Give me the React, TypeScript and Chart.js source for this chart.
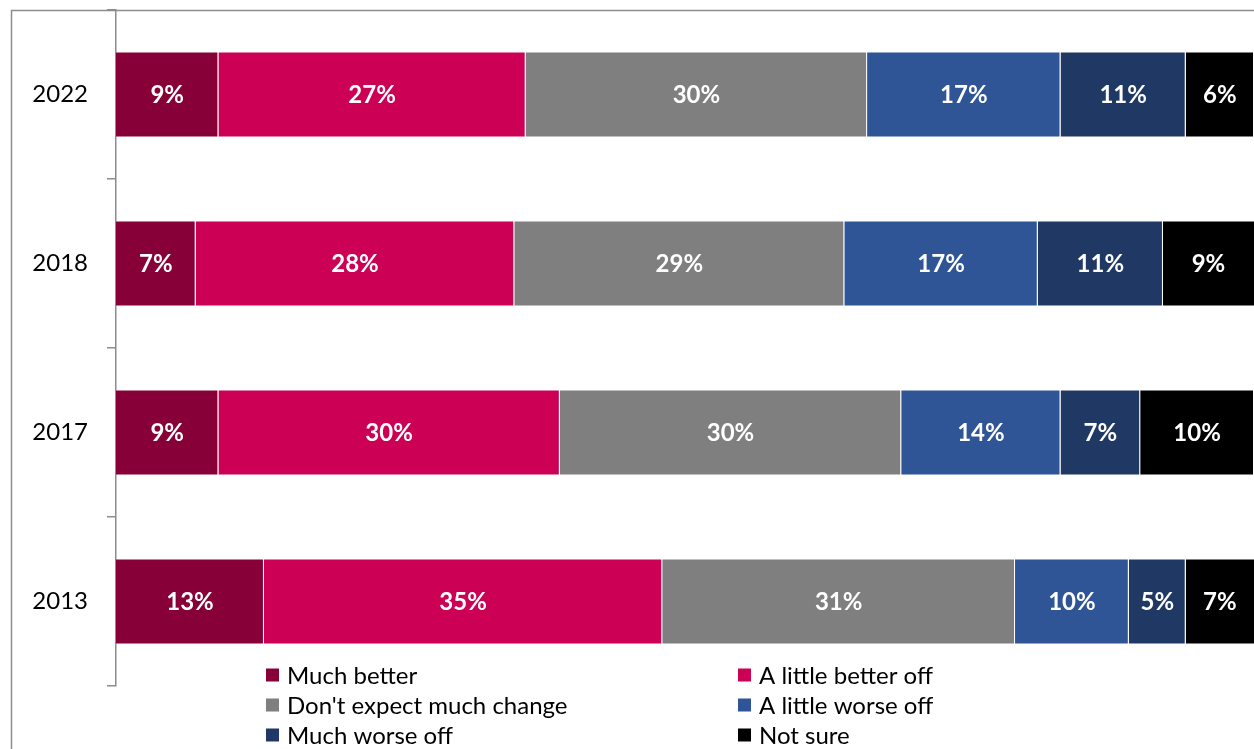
import React, { useEffect, useRef } from "react";
import { Chart, registerables } from "chart.js";

Chart.register(...registerables);

const categories = ["2022", "2018", "2017", "2013"];
const seriesNames = [
  "Much better",
  "A little better off",
  "Don't expect much change",
  "A little worse off",
  "Much worse off",
  "Not sure",
];
const muchBetter = [9, 7, 9, 13];
const littleBetter = [27, 28, 30, 35];
const noChange = [30, 29, 30, 31];
const littleWorse = [17, 17, 14, 10];
const muchWorse = [11, 11, 7, 5];
const notSure = [6, 9, 10, 7];
const seriesColors = ["#870037", "#CC0055", "#7F7F7F", "#2F5597", "#203864", "#000000"];
const xMin = 0;
const xMax = 100;

const FONT = "Lato, 'Open Sans', sans-serif";
const LINE = "#8c8c8c";

const framePlugin = {
  id: "frame",
  beforeDraw(chart: any) {
    const { ctx } = chart;
    ctx.save();
    ctx.strokeStyle = LINE;
    ctx.lineWidth = 1.5;
    ctx.beginPath();
    ctx.moveTo(11.5, chart.height);
    ctx.lineTo(11.5, 10.5);
    ctx.lineTo(chart.width, 10.5);
    ctx.stroke();
    ctx.restore();
  },
};

const labelPlugin = {
  id: "segLabels",
  afterDatasetsDraw(chart: any) {
    const { ctx, chartArea } = chart;
    ctx.save();
    ctx.fillStyle = "#ffffff";
    ctx.font = `bold 24px ${FONT}`;
    ctx.textAlign = "center";
    ctx.textBaseline = "middle";
    chart.data.datasets.forEach((ds: any, di: number) => {
      const meta = chart.getDatasetMeta(di);
      meta.data.forEach((el: any, i: number) => {
        const p = el.getProps(["x", "base", "y"], true);
        const l = Math.max(Math.min(p.x, p.base), chartArea.left);
        const r = Math.min(Math.max(p.x, p.base), chartArea.right);
        ctx.fillText(`${ds.data[i]}%`, (l + r) / 2, p.y + 1);
      });
    });
    ctx.restore();
  },
};

const legendPlugin = {
  id: "customLegend",
  afterDraw(chart: any) {
    const { ctx } = chart;
    const colX = [266, 738];
    const rowY = [675, 705, 735];
    ctx.save();
    ctx.font = `24px ${FONT}`;
    ctx.textBaseline = "middle";
    ctx.textAlign = "left";
    chart.data.datasets.forEach((ds: any, i: number) => {
      const cx = colX[i % 2];
      const cy = rowY[Math.floor(i / 2)];
      ctx.fillStyle = ds.backgroundColor;
      ctx.fillRect(cx, cy - 6.5, 13, 13);
      ctx.fillStyle = "#000000";
      ctx.fillText(ds.label, cx + 21, cy + 1);
    });
    ctx.restore();
  },
};

export default function App() {
  const ref = useRef<HTMLCanvasElement | null>(null);
  useEffect(() => {
    if (!ref.current) return;
    const values = [muchBetter, littleBetter, noChange, littleWorse, muchWorse, notSure];
    const chart = new Chart(ref.current, {
      type: "bar",
      data: {
        labels: categories,
        datasets: values.map((v, i) => ({
          label: seriesNames[i],
          data: v,
          backgroundColor: seriesColors[i],
          borderColor: "rgba(255,255,255,0.35)",
          borderWidth: 1,
          borderSkipped: "start",
          barPercentage: 0.51,
          categoryPercentage: 1,
        })),
      },
      options: {
        indexAxis: "y",
        responsive: false,
        animation: false,
        layout: { padding: { left: 11, top: 10, right: 0, bottom: 63 } },
        plugins: { legend: { display: false }, tooltip: { enabled: false } },
        scales: {
          x: { display: false, stacked: true, min: xMin, max: xMax },
          y: {
            stacked: true,
            offset: true,
            grid: {
              offset: true,
              drawOnChartArea: false,
              drawTicks: true,
              tickLength: 9,
              color: LINE,
              lineWidth: 1.5,
            },
            border: { display: true, color: LINE, width: 1.5 },
            ticks: { color: "#000000", font: { family: FONT, size: 24 }, padding: 19 },
            afterFit(scale: any) {
              scale.width = 105;
              scale.paddingTop = 0;
              scale.paddingBottom = 0;
            },
          },
        },
      } as any,
      plugins: [framePlugin, labelPlugin, legendPlugin],
    });
    return () => chart.destroy();
  }, []);
  return (
    <div style={{ position: "fixed", left: 0, top: 0, width: 1254, height: 749, background: "#fff" }}>
      <canvas ref={ref} width={1254} height={749} style={{ display: "block" }} />
    </div>
  );
}
